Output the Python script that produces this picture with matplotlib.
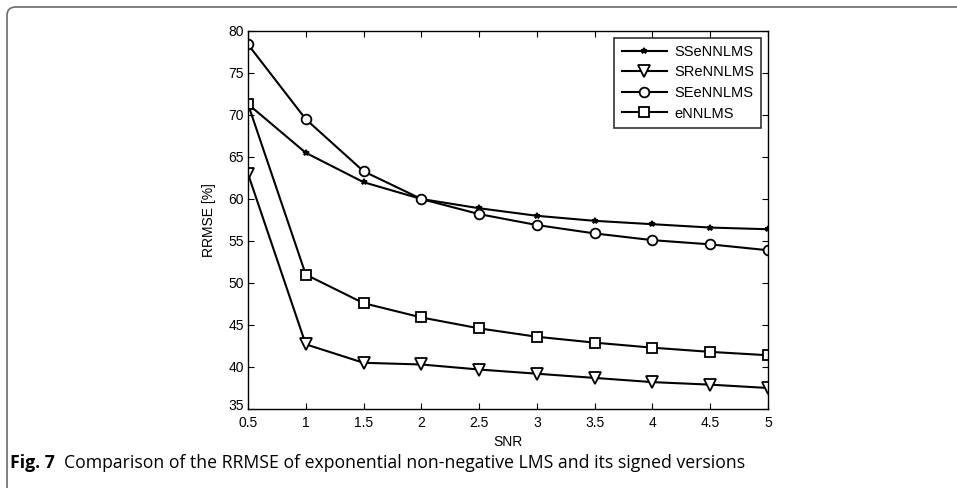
import matplotlib
matplotlib.use('Agg')
import matplotlib.pyplot as plt
import matplotlib.transforms as mtransforms
from matplotlib.patches import FancyBboxPatch

snr = [0.5, 1, 1.5, 2, 2.5, 3, 3.5, 4, 4.5, 5]
sse = [71.3, 65.5, 62.0, 60.0, 58.9, 58.0, 57.4, 57.0, 56.6, 56.4]
sre = [63.0, 42.7, 40.5, 40.3, 39.7, 39.2, 38.7, 38.2, 37.9, 37.5]
see = [78.4, 69.5, 63.3, 60.0, 58.2, 56.9, 55.9, 55.1, 54.6, 53.9]
enn = [71.3, 51.0, 47.6, 45.9, 44.6, 43.6, 42.9, 42.3, 41.8, 41.4]
names = ['SSeNNLMS', 'SReNNLMS', 'SEeNNLMS', 'eNNLMS']
xticks = [0.5, 1, 1.5, 2, 2.5, 3, 3.5, 4, 4.5, 5]
yticks = [35, 40, 45, 50, 55, 60, 65, 70, 75, 80]

plt.rcParams['font.family'] = ['Liberation Sans', 'DejaVu Sans']

fig = plt.figure(figsize=(9.57, 4.88), dpi=100)
W, H = 957, 488

# rounded frame around the figure (open to the right and bottom)
frame = FancyBboxPatch((7 / W, -20 / H), 1.1, (488 - 7 + 20) / H,
                       boxstyle='round,pad=0,rounding_size=0.009',
                       transform=fig.transFigure, fc='none', ec='#6b6b6b',
                       lw=1.2, clip_on=False, mutation_aspect=W / H)
fig.patches.append(frame)

ax = fig.add_axes([248 / W, 1 - 409 / H, (768 - 248) / W, (409 - 31) / H])
style = dict(color='black', lw=1.5, mfc='white', mec='black', mew=1.3)
ax.plot(snr, sse, marker='*', ms=4, label=names[0], **style)
ax.plot(snr, sre, marker='v', ms=8, label=names[1], **style)
ax.plot(snr, see, marker='o', ms=7, label=names[2], **style)
ax.plot(snr, enn, marker='s', ms=7, label=names[3], **style)

ax.set_xlim(0.5, 5)
ax.set_ylim(35, 80)
ax.set_xticks(xticks)
ax.set_xticklabels([('%g' % t) for t in xticks])
ax.set_yticks(yticks)
ax.tick_params(direction='in', top=True, right=True, labelsize=10, length=4)
ax.tick_params(axis='x', pad=5)
ax.tick_params(axis='y', pad=3)
# nudge the lowest y label up a little so it just clears the first x label
lab35 = ax.get_yticklabels()[0]
lab35.set_transform(lab35.get_transform() +
                    mtransforms.ScaledTranslation(0, 3 / 72, fig.dpi_scale_trans))
for s in ax.spines.values():
    s.set_linewidth(1.0)
ax.set_xlabel('SNR', fontsize=10, labelpad=4)
ax.set_ylabel('RRMSE [%]', fontsize=10, labelpad=9)

leg = ax.legend(loc='upper right', fontsize=10.5, frameon=True, fancybox=False,
                edgecolor='black', handlelength=3.1, borderpad=0.5,
                labelspacing=0.45, handletextpad=0.5, borderaxespad=0.45)
leg.get_frame().set_linewidth(1.2)

# caption
t1 = fig.text(10 / W, 1 - 463 / H, 'Fig. 7', fontsize=12.7, fontweight='bold',
              family='Open Sans', va='center', ha='left')
fig.canvas.draw()
bb = t1.get_window_extent(fig.canvas.get_renderer())
fig.text((bb.x1 + 9) / W, 1 - 463 / H,
         'Comparison of the RRMSE of exponential non-negative LMS and its signed versions',
         fontsize=12.7, family='Open Sans', va='center', ha='left')

fig.savefig('out.png', dpi=100)
